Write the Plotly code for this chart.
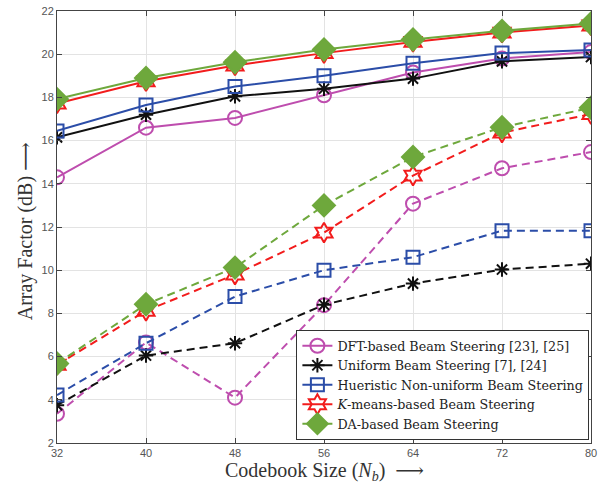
import plotly.graph_objects as go

codebook = [32, 40, 48, 56, 64, 72, 80]

# Solid lines
dft_solid = [14.3, 16.6, 17.05, 18.1, 19.15, 19.8, 20.1]
uni_solid = [16.15, 17.2, 18.05, 18.4, 18.87, 19.67, 19.87]
heu_solid = [16.45, 17.65, 18.5, 19.0, 19.58, 20.05, 20.2]
km_solid = [17.72, 18.75, 19.48, 20.05, 20.57, 21.0, 21.33]
da_solid = [17.92, 18.9, 19.63, 20.22, 20.68, 21.08, 21.42]

# Dashed lines
dft_dash = [3.35, 6.65, 4.1, 8.38, 13.08, 14.72, 15.47]
uni_dash = [3.75, 6.05, 6.62, 8.4, 9.38, 10.03, 10.3]
heu_dash = [4.22, 6.62, 8.78, 10.0, 10.6, 11.83, 11.83]
km_dash = [5.62, 8.12, 9.8, 11.74, 14.38, 16.37, 17.23]
da_dash = [5.68, 8.42, 10.12, 13.0, 15.24, 16.62, 17.52]

yticks = list(range(2, 23, 2))

names = [
    "DFT-based Beam Steering [23], [25]",
    "Uniform Beam Steering [7], [24]",
    "Hueristic Non-uniform Beam Steering",
    "<i>K</i>-means-based Beam Steering",
    "DA-based Beam Steering",
]
colors = ["#BE4DAE", "#111111", "#2B4DA8", "#F21C1C", "#6EA83C"]
symbols = ["circle-open", "asterisk-open", "square-open", "hexagram-open", "diamond"]
sizes = [14, 12, 13, 15, 17]

solid = [dft_solid, uni_solid, heu_solid, km_solid, da_solid]
dashed = [dft_dash, uni_dash, heu_dash, km_dash, da_dash]

fig = go.Figure()
for i in range(5):
    mk = dict(symbol=symbols[i], size=sizes[i], color=colors[i],
              line=dict(color=colors[i], width=2))
    fig.add_trace(go.Scatter(x=codebook, y=solid[i], mode="lines+markers",
                             name=names[i], line=dict(color=colors[i], width=2),
                             marker=mk, showlegend=True))
for i in range(5):
    mk = dict(symbol=symbols[i], size=sizes[i], color=colors[i],
              line=dict(color=colors[i], width=2))
    fig.add_trace(go.Scatter(x=codebook, y=dashed[i], mode="lines+markers",
                             name=names[i], line=dict(color=colors[i], width=2, dash="8px,5px"),
                             marker=mk, showlegend=False))

axis_common = dict(
    showline=True, linecolor="#444444", linewidth=1, mirror="ticks",
    ticks="inside", ticklen=5, tickcolor="#444444",
    showgrid=True, gridcolor="#E3E3E3", gridwidth=1, zeroline=False,
    ticklabeloverflow="allow",
    tickfont=dict(family="Liberation Sans, Arial", size=11, color="#555555"),
)

title_font = dict(family="Liberation Serif, DejaVu Serif", size=20, color="#333333")

fig.update_layout(
    width=606, height=486,
    margin=dict(l=57, r=15, t=5, b=43),
    plot_bgcolor="white", paper_bgcolor="white",
    xaxis=dict(range=[32, 80], tickvals=codebook, **axis_common),
    yaxis=dict(range=[2, 22], tickvals=yticks, **axis_common),
    legend=dict(x=0.997, y=0.007, xanchor="right", yanchor="bottom",
                bgcolor="white", bordercolor="#333333", borderwidth=1,
                font=dict(family="DejaVu Serif", size=12.7, color="#222222"),
                tracegroupgap=0, itemwidth=30),
    showlegend=True,
    annotations=[
        dict(text="Codebook Size (<i>N</i><sub><i>b</i></sub>)  \u27f6",
             xref="paper", yref="paper", x=0.5, y=-0.066,
             xanchor="center", yanchor="middle", showarrow=False, font=title_font),
        dict(text="Array Factor (dB) \u27f6",
             xref="paper", yref="paper", x=-0.06, y=0.49, textangle=-90,
             xanchor="center", yanchor="middle", showarrow=False, font=title_font),
    ],
)

fig.write_html("out.html", config={"displayModeBar": False},
               post_script="document.body.style.margin='0';document.body.style.overflow='hidden';")
